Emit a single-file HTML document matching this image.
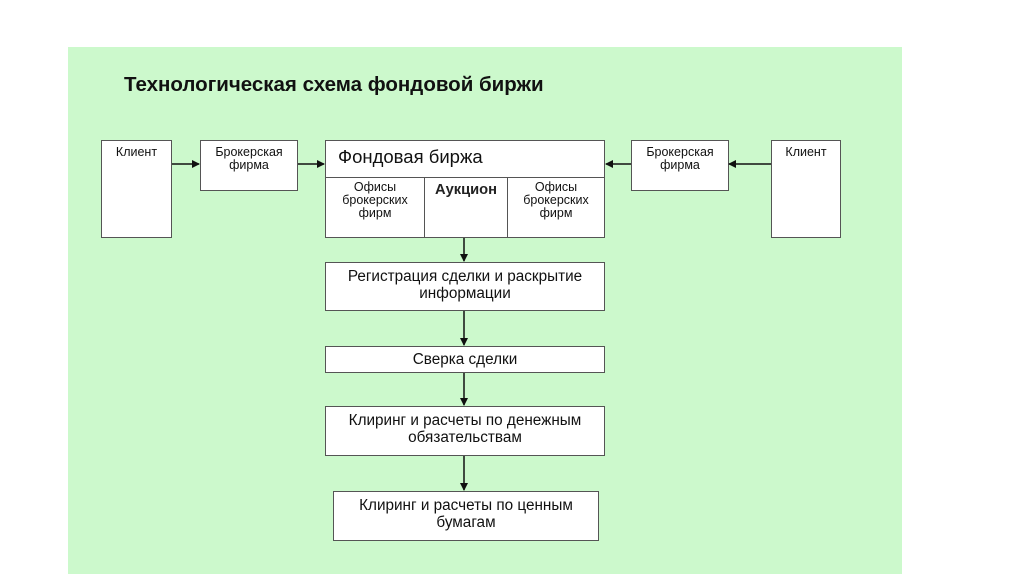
<!DOCTYPE html>
<html><head><meta charset="utf-8"><style>
body{margin:0;width:1024px;height:574px;background:#fff;position:relative;overflow:hidden;font-family:"Liberation Sans",sans-serif;color:#111}
.g{position:absolute;left:68px;top:47px;width:834px;height:527px;background:#ccf9cc}
.b{position:absolute;background:#fff;border:1px solid #555;box-sizing:border-box;text-align:center;font-size:12.5px;line-height:13px}
.t{position:absolute;left:124px;top:73px;font-size:20.5px;font-weight:bold;white-space:nowrap}
.m{font-size:15.3px;line-height:17px}
svg{position:absolute;left:0;top:0}
</style></head><body>
<div class="g"></div>
<div class="t">Технологическая схема фондовой биржи</div>
<div class="b" style="left:101px;top:140px;width:71px;height:98px;padding-top:5px">Клиент</div>
<div class="b" style="left:200px;top:140px;width:98px;height:51px;padding-top:5px">Брокерская<br>фирма</div>
<div class="b" style="left:631px;top:140px;width:98px;height:51px;padding-top:5px">Брокерская<br>фирма</div>
<div class="b" style="left:771px;top:140px;width:70px;height:98px;padding-top:5px">Клиент</div>
<div class="b" style="left:325px;top:140px;width:280px;height:98px"></div>
<div class="b" style="left:325px;top:140px;width:280px;height:38px;text-align:left;padding:6px 0 0 12px;font-size:18.5px;line-height:20px">Фондовая биржа</div>
<div class="b" style="left:325px;top:177px;width:100px;height:61px;padding-top:3px">Офисы<br>брокерских<br>фирм</div>
<div class="b" style="left:424px;top:177px;width:84px;height:61px;padding-top:4px;font-size:14.7px;line-height:16px;font-weight:bold;color:#222">Аукцион</div>
<div class="b" style="left:507px;top:177px;width:98px;height:61px;padding-top:3px">Офисы<br>брокерских<br>фирм</div>
<div class="b m" style="left:325px;top:262px;width:280px;height:49px;padding-top:5px">Регистрация сделки и раскрытие<br>информации</div>
<div class="b m" style="left:325px;top:346px;width:280px;height:27px;padding-top:4px">Сверка сделки</div>
<div class="b m" style="left:325px;top:406px;width:280px;height:50px;padding-top:5px">Клиринг и расчеты по денежным<br>обязательствам</div>
<div class="b m" style="left:333px;top:491px;width:266px;height:50px;padding-top:5px">Клиринг и расчеты по ценным<br>бумагам</div>
<svg width="1024" height="574">
<defs><marker id="a" markerWidth="8" markerHeight="8" refX="7" refY="4" orient="auto" markerUnits="userSpaceOnUse"><path d="M0,0L8,4L0,8z" fill="#111"/></marker></defs>
<g stroke="#111" stroke-width="1.5" fill="none" marker-end="url(#a)">
<line x1="172" y1="164" x2="199" y2="164"/>
<line x1="298" y1="164" x2="324" y2="164"/>
<line x1="631" y1="164" x2="606" y2="164"/>
<line x1="771" y1="164" x2="729" y2="164"/>
<line x1="464" y1="238" x2="464" y2="261"/>
<line x1="464" y1="311" x2="464" y2="345"/>
<line x1="464" y1="373" x2="464" y2="405"/>
<line x1="464" y1="456" x2="464" y2="490"/>
</g></svg>
</body></html>
